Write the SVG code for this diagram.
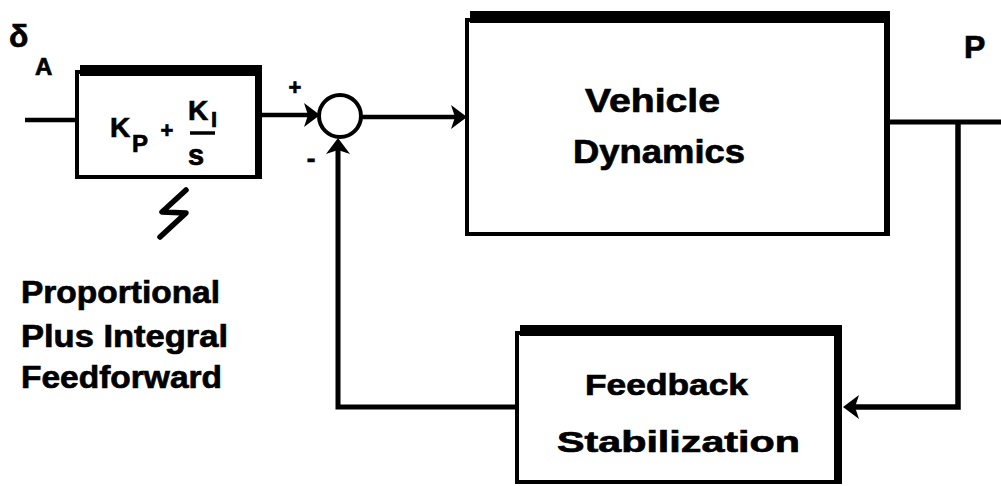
<svg xmlns="http://www.w3.org/2000/svg" width="1001" height="486" viewBox="0 0 1001 486">
<style>
.ln{fill:none;stroke:#000;stroke-width:4.5;stroke-linecap:butt;stroke-linejoin:miter}
.box{fill:#fff;stroke:#000;stroke-width:4}
.bar{fill:#000}
.t{font-family:"Liberation Sans",Arial,sans-serif;font-weight:bold;fill:#000;stroke:#000;stroke-width:0.7}
</style>
<defs>
<marker id="ah" markerUnits="userSpaceOnUse" viewBox="0 0 16 24" refX="6" refY="12" markerWidth="16" markerHeight="24" orient="auto">
<path d="M0,0 L16,12 L0,24 L4,12 Z" fill="#000"/>
</marker>
</defs>
<rect width="1001" height="486" fill="#fff"/>

<g id="connectors">
<path class="ln" d="M25,120 H79"/>
<path class="ln" d="M260,115 H310" marker-end="url(#ah)"/>
<path class="ln" d="M361,117 H457" marker-end="url(#ah)"/>
<path class="ln" d="M888,122 H1001" style="stroke-width:5"/>
<path class="ln" d="M958,122 V407 H853" style="stroke-width:5.5" marker-end="url(#ah)"/>
<path class="ln" d="M519,407 H338 V148" style="stroke-width:5" marker-end="url(#ah)"/>
<path class="ln" d="M186,190 L162,212 L186,213 L160,237" style="stroke-width:5.5;stroke-linejoin:round;stroke-linecap:round"/>
</g>

<g id="node-pi">
<rect class="box" x="77" y="72" width="181" height="105"/>
<rect class="bar" x="80" y="65" width="182" height="11"/>
<rect class="bar" x="255" y="65" width="7" height="114"/>
<text class="t" x="110" y="137" font-size="28">K</text>
<text class="t" x="132" y="152" font-size="24">P</text>
<text class="t" x="167" y="138" font-size="22" text-anchor="middle">+</text>
<text class="t" x="188" y="120" font-size="28">K</text>
<text class="t" x="211" y="127" font-size="22">I</text>
<path d="M190,133 H215" stroke="#000" stroke-width="3.5"/>
<text class="t" x="188" y="165" font-size="29">s</text>
</g>

<g id="node-sum">
<circle cx="340" cy="116" r="21" fill="#fff" stroke="#000" stroke-width="4"/>
<text class="t" x="295" y="95" font-size="22" text-anchor="middle">+</text>
<text class="t" x="311" y="167" font-size="26" text-anchor="middle">-</text>
</g>

<g id="node-vehicle">
<rect class="box" x="467" y="20" width="420" height="214"/>
<rect class="bar" x="470" y="11" width="420" height="12"/>
<rect class="bar" x="884" y="11" width="6" height="225"/>
<text class="t" x="585" y="112" font-size="34" textLength="135" lengthAdjust="spacingAndGlyphs">Vehicle</text>
<text class="t" x="573" y="163" font-size="34" textLength="172" lengthAdjust="spacingAndGlyphs">Dynamics</text>
</g>

<g id="node-feedback">
<rect class="box" x="517" y="333" width="319" height="149"/>
<rect class="bar" x="520" y="325" width="322" height="11"/>
<rect class="bar" x="834" y="325" width="8" height="159"/>
<text class="t" x="585" y="395" font-size="30" textLength="163" lengthAdjust="spacingAndGlyphs">Feedback</text>
<text class="t" x="557" y="452" font-size="30" textLength="243" lengthAdjust="spacingAndGlyphs">Stabilization</text>
</g>

<g id="labels">
<text class="t" x="9" y="47" font-size="32">δ</text>
<text class="t" x="35" y="75" font-size="24">A</text>
<text class="t" x="964" y="58" font-size="32">P</text>
<text class="t" x="21" y="303" font-size="32" textLength="199" lengthAdjust="spacingAndGlyphs">Proportional</text>
<text class="t" x="21" y="347" font-size="32" textLength="207" lengthAdjust="spacingAndGlyphs">Plus Integral</text>
<text class="t" x="21" y="388" font-size="32" textLength="201" lengthAdjust="spacingAndGlyphs">Feedforward</text>
</g>
</svg>
